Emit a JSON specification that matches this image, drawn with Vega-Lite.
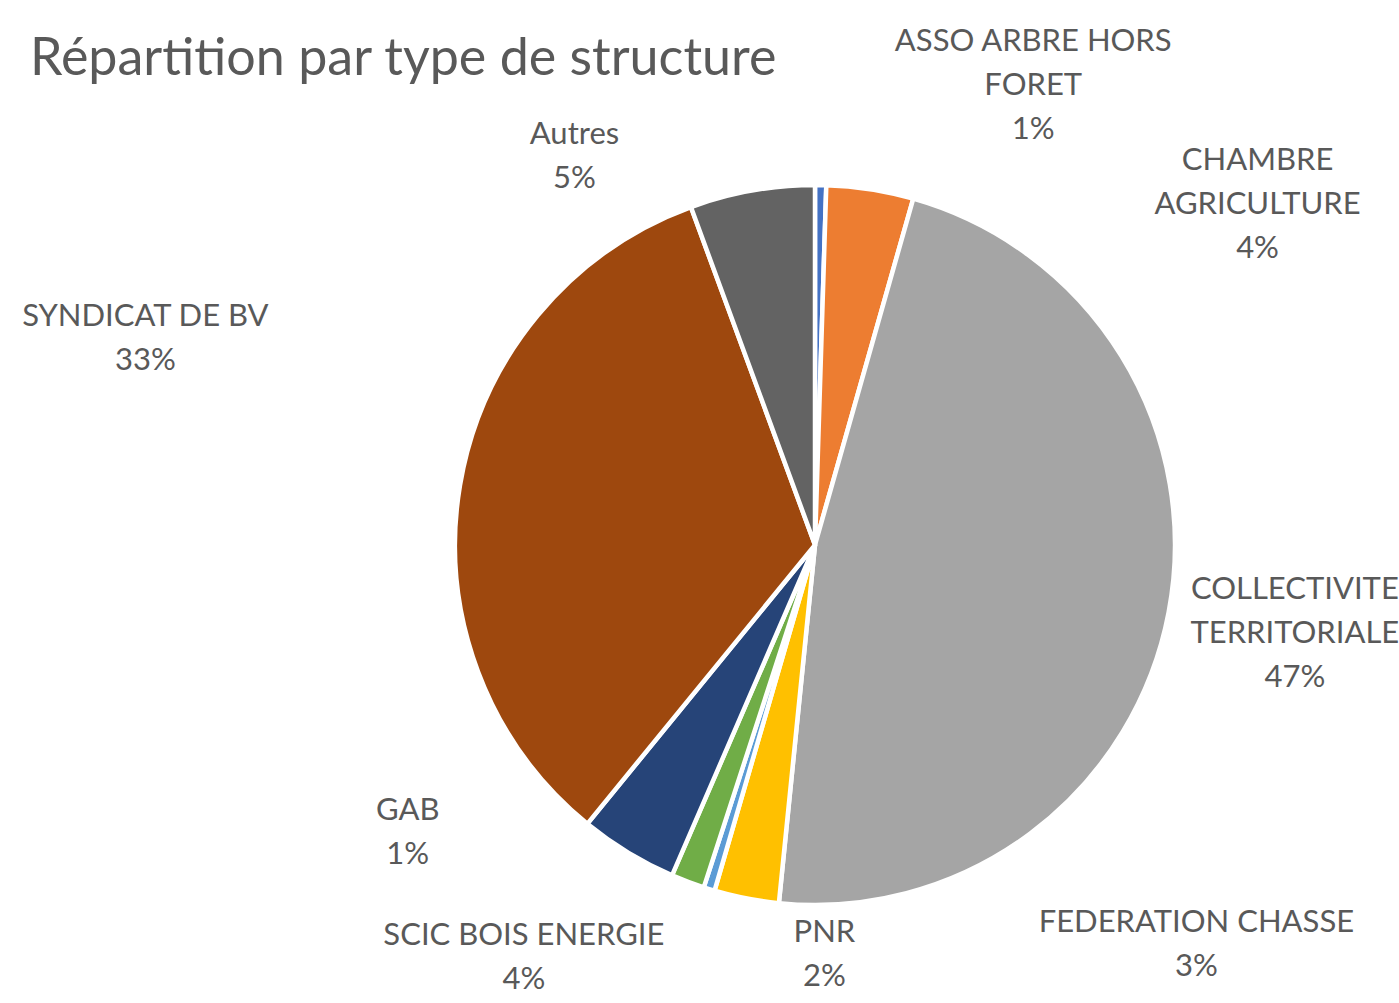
{
  "$schema": "https://vega.github.io/schema/vega-lite/v6.json",
  "width": 1168,
  "height": 916,
  "autosize": {"type": "none"},
  "padding": {"left": 231, "top": 87, "right": 0, "bottom": 0},
  "background": "white",
  "config": {"view": {"stroke": null}, "font": "Lato"},
  "title": {
    "text": "Répartition par type de structure",
    "anchor": "start",
    "frame": "group",
    "dx": -201,
    "offset": -101,
    "baseline": "alphabetic",
    "font": "Lato",
    "fontSize": 52,
    "fontWeight": "normal",
    "color": "#595959"
  },
  "data": {
    "values": [
      {"structure": "ASSO ARBRE HORS FORET", "part": 0.5, "label": "ASSO ARBRE HORS\nFORET\n1%"},
      {"structure": "CHAMBRE AGRICULTURE", "part": 3.9, "label": "CHAMBRE\nAGRICULTURE\n4%"},
      {"structure": "COLLECTIVITE TERRITORIALE", "part": 47.2, "label": "COLLECTIVITE\nTERRITORIALE\n47%"},
      {"structure": "FEDERATION CHASSE", "part": 2.9, "label": "FEDERATION CHASSE\n3%"},
      {"structure": "GAB", "part": 0.5, "label": "GAB\n1%"},
      {"structure": "PNR", "part": 1.5, "label": "PNR\n2%"},
      {"structure": "SCIC BOIS ENERGIE", "part": 4.4, "label": "SCIC BOIS ENERGIE\n4%"},
      {"structure": "SYNDICAT DE BV", "part": 33.5, "label": "SYNDICAT DE BV\n33%"},
      {"structure": "Autres", "part": 5.6, "label": "Autres\n5%"}
    ]
  },
  "transform": [{"window": [{"op": "row_number", "as": "ordre"}]}],
  "encoding": {
    "theta": {"field": "part", "type": "quantitative", "stack": true},
    "order": {"field": "ordre", "type": "quantitative"}
  },
  "layer": [
    {
      "mark": {"type": "arc", "outerRadius": 360, "stroke": "white", "strokeWidth": 4.5},
      "encoding": {
        "color": {
          "field": "structure",
          "type": "nominal",
          "legend": null,
          "scale": {
            "domain": ["ASSO ARBRE HORS FORET", "CHAMBRE AGRICULTURE", "COLLECTIVITE TERRITORIALE", "FEDERATION CHASSE", "GAB", "PNR", "SCIC BOIS ENERGIE", "SYNDICAT DE BV", "Autres"],
            "range": ["#4472C4", "#ED7D31", "#A5A5A5", "#FFC000", "#5B9BD5", "#70AD47", "#264478", "#9E480E", "#636363"]
          }
        }
      }
    },
    {
      "mark": {
        "type": "text",
        "radius": 460,
        "font": "Lato",
        "fontSize": 31,
        "color": "#595959",
        "lineBreak": "\n",
        "lineHeight": 44,
        "align": "center",
        "baseline": "middle",
        "dx": {"expr": "datum.structure === 'ASSO ARBRE HORS FORET' ? 211 : datum.structure === 'CHAMBRE AGRICULTURE' ? 372 : datum.structure === 'COLLECTIVITE TERRITORIALE' ? 28 : datum.structure === 'FEDERATION CHASSE' ? 469 : datum.structure === 'GAB' ? -272 : datum.structure === 'PNR' ? 172 : datum.structure === 'SCIC BOIS ENERGIE' ? -52 : datum.structure === 'SYNDICAT DE BV' ? -216 : -160"},
        "dy": {"expr": "datum.structure === 'ASSO ARBRE HORS FORET' ? -43 : datum.structure === 'CHAMBRE AGRICULTURE' ? 71 : datum.structure === 'COLLECTIVITE TERRITORIALE' ? -41 : datum.structure === 'FEDERATION CHASSE' ? -74 : datum.structure === 'GAB' ? -174 : datum.structure === 'PNR' ? -42 : datum.structure === 'SCIC BOIS ENERGIE' ? -2 : datum.structure === 'SYNDICAT DE BV' ? -152 : 43"}
      },
      "encoding": {"text": {"field": "label", "type": "nominal"}}
    }
  ]
}
